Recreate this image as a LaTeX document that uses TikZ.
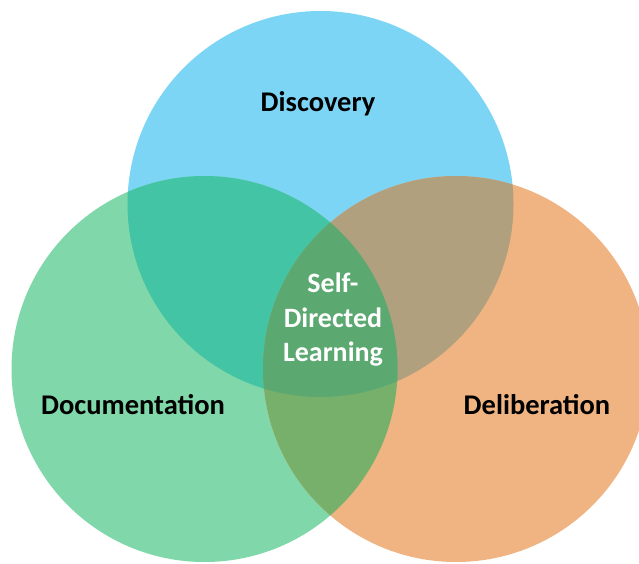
\documentclass[tikz,border=0pt]{standalone}
\usepackage{fontspec}
\setmainfont{Carlito}
\definecolor{cblue}{HTML}{7DD5F6}
\definecolor{cgreen}{HTML}{80D7A9}
\definecolor{corange}{HTML}{F0B483}
\definecolor{cbg}{HTML}{43C4A5}
\definecolor{cbo}{HTML}{B0A07E}
\definecolor{cgo}{HTML}{77B06B}
\definecolor{call}{HTML}{5BA870}
\begin{document}
\begin{tikzpicture}[x=1pt,y=1pt,
  lbl/.style={font=\bfseries\fontsize{28.5}{32}\selectfont, text=black},
  ctr/.style={font=\bfseries\fontsize{28}{34.5}\selectfont, text=white, align=center}]
\useasboundingbox (0,0) rectangle (639,563);
\def\B{(320.5,359) circle (193)}
\def\G{(204.5,194) circle (193)}
\def\O{(456,194) circle (193)}
\fill[cblue] \B;
\fill[cgreen] \G;
\fill[corange] \O;
\begin{scope}\clip \B; \fill[cbg] \G; \end{scope}
\begin{scope}\clip \B; \fill[cbo] \O; \end{scope}
\begin{scope}\clip \G; \fill[cgo] \O; \end{scope}
\begin{scope}\clip \B; \clip \G; \fill[call] \O; \end{scope}
\node[lbl] (disc) at (318,459) {Discovery};
\node[lbl] (doc) at (133,158) {Documentation};
\node[lbl] (del) at (537,158) {Deliberation};
\node[ctr] (sdl) at (333,243) {Self-\\Directed\\Learning};
\end{tikzpicture}
\end{document}
